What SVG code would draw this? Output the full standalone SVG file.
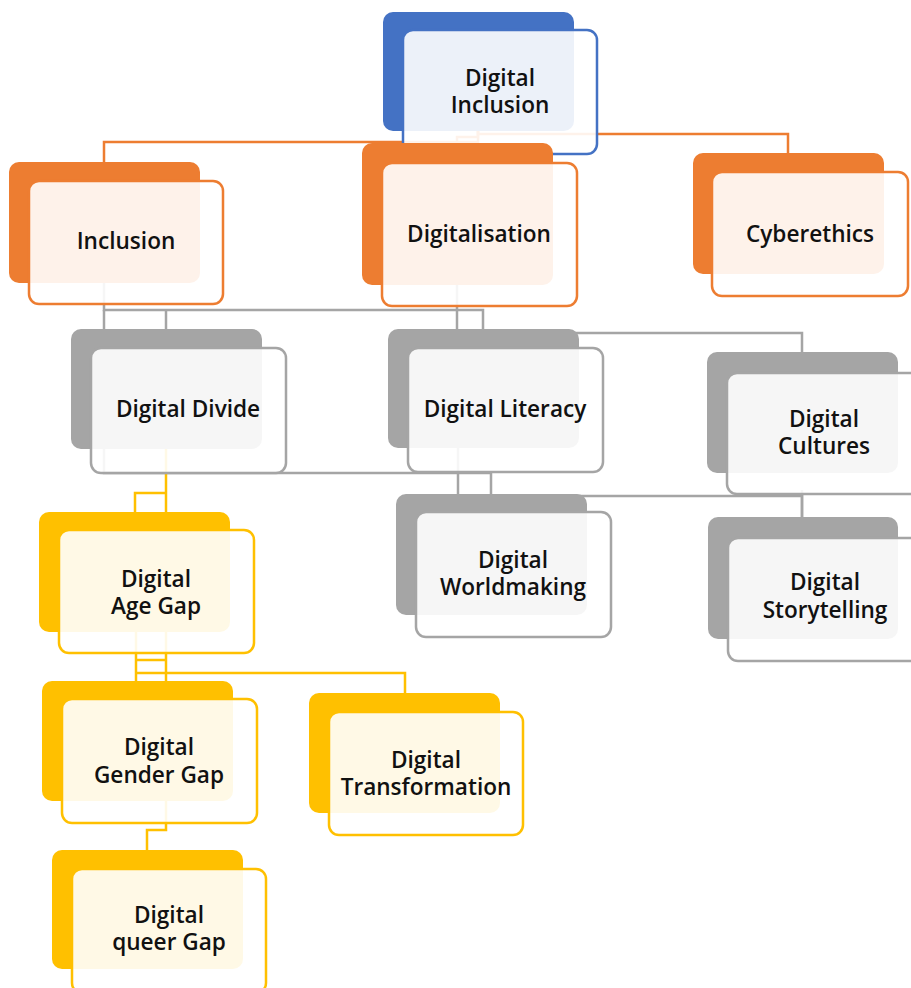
<svg xmlns="http://www.w3.org/2000/svg" width="911" height="988" viewBox="0 0 911 988">
  <style>
    .lbl { font-family: "Open Sans", "Liberation Sans", sans-serif; font-weight: 600; font-size: 22.6px; fill: #111; text-anchor: middle; }
    .back { stroke: none; }
    .front { fill: #ffffff; fill-opacity: 0.9; stroke-width: 2.5; }
    .blue .back { fill: #4472C4; } .blue .front { stroke: #4472C4; }
    .orange .back { fill: #ED7D31; } .orange .front { stroke: #ED7D31; }
    .gray .back { fill: #A5A5A5; } .gray .front { stroke: #A5A5A5; }
    .yellow .back { fill: #FFC000; } .yellow .front { stroke: #FFC000; }
    #connectors path { fill: none; stroke-width: 2.5; }
    .c-orange { stroke: #ED7D31; }
    .c-gray { stroke: #A5A5A5; }
    .c-yellow { stroke: #FFC000; }
  </style>

  <rect width="911" height="988" fill="#ffffff"/>

  <!-- elbow connectors, drawn beneath the nodes -->
  <g id="connectors">
    <path class="c-orange" d="M478,131 V142 H104 V162"/>
    <path class="c-orange" d="M478,131 V134 H788 V153"/>
    <path class="c-orange" d="M478,131 V137 H457 V143"/>

    <path class="c-gray" d="M104,283 V310 H483 V329"/>
    <path class="c-gray" d="M104,310 V329"/>
    <path class="c-gray" d="M166,310 V329"/>
    <path class="c-gray" d="M457,285 V329"/>
    <path class="c-gray" d="M483,329 V333 H802 V352"/>
    <path class="c-gray" d="M104,449 V473 H491 V494"/>
    <path class="c-gray" d="M458,448 V494"/>
    <path class="c-gray" d="M491,494 V496 H802 V517"/>
    <path class="c-gray" d="M802,490 V517"/>

    <path class="c-yellow" d="M166,449 V512"/>
    <path class="c-yellow" d="M166,493 H135 V512"/>
    <path class="c-yellow" d="M136,632 V681"/>
    <path class="c-yellow" d="M166,632 V681"/>
    <path class="c-yellow" d="M136,660 H166"/>
    <path class="c-yellow" d="M136,673 H405 V693"/>
    <path class="c-yellow" d="M166,801 V830 H147 V850"/>
  </g>

  <g id="digital-inclusion" class="blue">
    <rect class="back" x="383" y="12" width="191" height="119" rx="10"/>
    <rect class="front" x="403" y="30" width="194" height="124" rx="10"/>
    <text class="lbl" x="500" y="86">Digital<tspan x="500" dy="27">Inclusion</tspan></text>
  </g>

  <g id="inclusion" class="orange">
    <rect class="back" x="9" y="162" width="191" height="121" rx="10"/>
    <rect class="front" x="29" y="181" width="194" height="123" rx="10"/>
    <text class="lbl" x="126" y="249">Inclusion</text>
  </g>

  <g id="digitalisation" class="orange">
    <rect class="back" x="362" y="143" width="191" height="142" rx="10"/>
    <rect class="front" x="382" y="163" width="195" height="143" rx="10"/>
    <text class="lbl" x="479" y="242">Digitalisation</text>
  </g>

  <g id="cyberethics" class="orange">
    <rect class="back" x="693" y="153" width="191" height="121" rx="10"/>
    <rect class="front" x="712" y="172" width="196" height="124" rx="10"/>
    <text class="lbl" x="810" y="242">Cyberethics</text>
  </g>

  <g id="digital-divide" class="gray">
    <rect class="back" x="71" y="329" width="191" height="120" rx="10"/>
    <rect class="front" x="91" y="348" width="195" height="125" rx="10"/>
    <text class="lbl" x="188" y="417">Digital Divide</text>
  </g>

  <g id="digital-literacy" class="gray">
    <rect class="back" x="388" y="329" width="191" height="119" rx="10"/>
    <rect class="front" x="408" y="348" width="195" height="124" rx="10"/>
    <text class="lbl" x="505" y="417">Digital Literacy</text>
  </g>

  <g id="digital-cultures" class="gray">
    <rect class="back" x="707" y="352" width="191" height="121" rx="10"/>
    <rect class="front" x="727" y="373" width="195" height="121" rx="10"/>
    <text class="lbl" x="824" y="427">Digital<tspan x="824" dy="27">Cultures</tspan></text>
  </g>

  <g id="digital-worldmaking" class="gray">
    <rect class="back" x="396" y="494" width="191" height="121" rx="10"/>
    <rect class="front" x="416" y="512" width="195" height="125" rx="10"/>
    <text class="lbl" x="513" y="568">Digital<tspan x="513" dy="27">Worldmaking</tspan></text>
  </g>

  <g id="digital-storytelling" class="gray">
    <rect class="back" x="708" y="517" width="190" height="122" rx="10"/>
    <rect class="front" x="728" y="538" width="195" height="123" rx="10"/>
    <text class="lbl" x="825" y="590">Digital<tspan x="825" dy="28">Storytelling</tspan></text>
  </g>

  <g id="digital-age-gap" class="yellow">
    <rect class="back" x="39" y="512" width="191" height="120" rx="10"/>
    <rect class="front" x="59" y="530" width="195" height="123" rx="10"/>
    <text class="lbl" x="156" y="587">Digital<tspan x="156" dy="27">Age Gap</tspan></text>
  </g>

  <g id="digital-gender-gap" class="yellow">
    <rect class="back" x="42" y="681" width="191" height="120" rx="10"/>
    <rect class="front" x="62" y="699" width="195" height="124" rx="10"/>
    <text class="lbl" x="159" y="755">Digital<tspan x="159" dy="28">Gender Gap</tspan></text>
  </g>

  <g id="digital-transformation" class="yellow">
    <rect class="back" x="309" y="693" width="191" height="120" rx="10"/>
    <rect class="front" x="329" y="712" width="194" height="123" rx="10"/>
    <text class="lbl" x="426" y="768">Digital<tspan x="426" dy="27">Transformation</tspan></text>
  </g>

  <g id="digital-queer-gap" class="yellow">
    <rect class="back" x="52" y="850" width="191" height="119" rx="10"/>
    <rect class="front" x="72" y="869" width="194" height="124" rx="10"/>
    <text class="lbl" x="169" y="923">Digital<tspan x="169" dy="27">queer Gap</tspan></text>
  </g>
</svg>
